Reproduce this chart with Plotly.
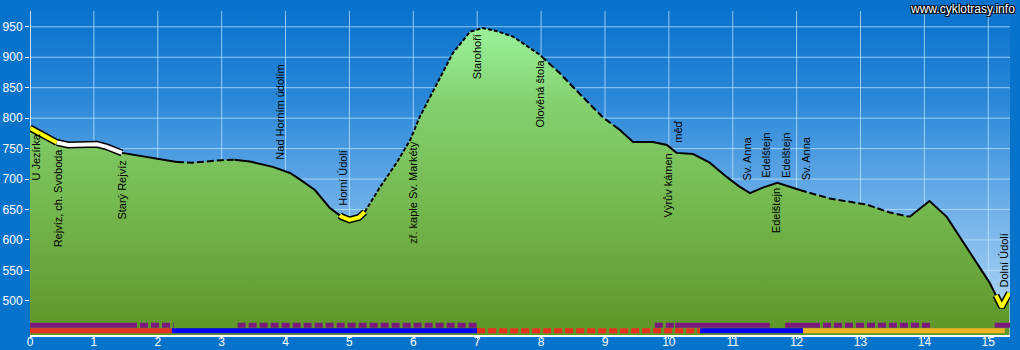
import numpy as np
import plotly.graph_objects as go

# ---- profile data (km, elevation m) ----
km = [0.00, 0.20, 0.42, 0.60, 1.05, 1.20, 1.44, 1.93, 2.30, 2.55,
      3.00, 3.18, 3.44, 3.80, 4.07, 4.23, 4.46, 4.69, 4.88, 5.00,
      5.15, 5.24, 5.48, 5.74, 5.95, 6.10, 6.34, 6.62, 6.89, 7.09,
      7.30, 7.56, 7.98, 8.29, 8.65, 8.97, 9.23, 9.44, 9.75, 9.97,
      10.12, 10.38, 10.64, 10.90, 11.10, 11.27, 11.47, 11.70, 12.05, 12.52,
      13.10, 13.46, 13.77, 14.08, 14.35, 14.66, 15.02, 15.13, 15.21, 15.33]
elev = [784, 772, 760, 756, 757, 753, 743, 735, 728, 727,
        731, 732, 729, 720, 710, 699, 682, 653, 638, 633,
        637, 646, 687, 727, 764, 802, 851, 907, 942, 948,
        943, 934, 904, 874, 835, 801, 781, 761, 761, 756,
        743, 741, 727, 704, 688, 677, 686, 694, 682, 668,
        658, 645, 638, 664, 638, 589, 530, 507, 490, 513]

# ---- line style segments of the profile ----
seg_start = [0.00, 0.42, 1.44, 2.30, 3.20, 4.85, 5.24, 8.00, 9.20, 12.05, 13.77, 15.12]
seg_end = [0.42, 1.44, 2.30, 3.20, 4.85, 5.24, 8.00, 9.20, 12.05, 13.77, 15.12, 15.33]
seg_style = ['yellow', 'white', 'solid', 'dash', 'solid', 'yellow', 'dot', 'dash',
             'solid', 'dash', 'solid', 'yellow']

# ---- waypoint labels ----
label_text = ['U Jezírka', 'Rejvíz, ch. Svoboda', 'Starý Rejvíz', 'Nad Horním údolím',
              'Horní Údolí', 'zř. kaple Sv. Markéty', 'Starohoří', 'Olověná štola',
              'Výrův kámen', 'měď', 'Sv. Anna', 'Edelštejn', 'Edelštejn', 'Edelštejn',
              'Sv. Anna', 'Dolní Údolí']
label_km = [0.10, 0.44, 1.44, 3.90, 4.90, 5.99, 7.00, 7.98,
            9.98, 10.14, 11.22, 11.53, 11.67, 11.83, 12.14, 15.24]
label_elev = [694, 584, 631, 728, 653, 590, 860, 781,
              633, 756, 694, 699, 608, 699, 694, 518]

# ---- bottom surface / route bars ----
top_start = [0.00, 1.55, 3.25, 9.78, 10.10, 11.82, 12.24, 15.10]
top_end = [1.55, 2.25, 7.00, 10.10, 11.58, 12.24, 14.10, 15.34]
top_dotted = [False, True, True, True, False, False, True, False]

low_start = [0.00, 2.22, 7.00, 10.49, 12.10]
low_end = [2.22, 7.00, 10.49, 12.10, 15.26]
low_color = ['#e6321e', '#0000f0', '#e6321e', '#0000f0', '#f0b428']
low_dotted = [False, False, True, False, False]

x_ticks = list(range(0, 16))
y_ticks = list(range(500, 951, 50))

X_MAX = 15.34
Y_MIN, Y_MAX = 444, 994
GRID_TOP = 976
TOP_BAR_Y = 460
LOW_BAR_Y = 451

fig = go.Figure()

# background gradient of the plot area
fig.add_trace(go.Scatter(
    x=[0, X_MAX], y=[Y_MAX, Y_MAX], mode='lines', line=dict(width=0),
    fill='tozeroy',
    fillgradient=dict(type='vertical', start=Y_MIN, stop=Y_MAX,
                      colorscale=[[0, '#b8dbf6'], [0.35, '#75b3ea'],
                                  [0.7, '#2b88d8'], [1, '#0670cb']]),
    hoverinfo='skip', showlegend=False))

# grid lines
gx, gy = [], []
for t in x_ticks[1:]:
    gx += [t, t, None]
    gy += [Y_MIN, GRID_TOP, None]
for t in y_ticks:
    gx += [0, X_MAX, None]
    gy += [t, t, None]
fig.add_trace(go.Scatter(x=gx, y=gy, mode='lines',
                         line=dict(color='rgba(190,230,255,0.75)', width=1),
                         hoverinfo='skip', showlegend=False))
# left axis line
fig.add_trace(go.Scatter(x=[0, 0], y=[Y_MIN, GRID_TOP], mode='lines',
                         line=dict(color='white', width=1.5),
                         hoverinfo='skip', showlegend=False))

# profile fill
fig.add_trace(go.Scatter(
    x=km, y=elev, mode='lines', line=dict(width=0),
    fill='tozeroy',
    fillgradient=dict(type='vertical', start=Y_MIN, stop=950,
                      colorscale=[[0, '#5f9428'], [0.45, '#76bb52'],
                                  [0.75, '#84d070'], [1, '#9bf29b']]),
    hoverinfo='skip', showlegend=False))

# profile line segments
km_arr = np.array(km, dtype=float)
el_arr = np.array(elev, dtype=float)
for s, e, st in zip(seg_start, seg_end, seg_style):
    inner = (km_arr > s) & (km_arr < e)
    xs = [s] + list(km_arr[inner]) + [e]
    ys = [float(np.interp(s, km_arr, el_arr))] + list(el_arr[inner]) + [float(np.interp(e, km_arr, el_arr))]
    if st in ('yellow', 'white'):
        fig.add_trace(go.Scatter(x=xs, y=ys, mode='lines',
                                 line=dict(color='black', width=7),
                                 hoverinfo='skip', showlegend=False))
        fig.add_trace(go.Scatter(x=xs, y=ys, mode='lines',
                                 line=dict(color='#ffff00' if st == 'yellow' else 'white', width=4),
                                 hoverinfo='skip', showlegend=False))
    else:
        dash = {'solid': 'solid', 'dash': '7px,3px', 'dot': '4px,2px'}[st]
        fig.add_trace(go.Scatter(x=xs, y=ys, mode='lines',
                                 line=dict(color='black', width=2, dash=dash),
                                 hoverinfo='skip', showlegend=False))

# bottom bars
for s, e, d in zip(top_start, top_end, top_dotted):
    fig.add_trace(go.Scatter(x=[s, e], y=[TOP_BAR_Y, TOP_BAR_Y], mode='lines',
                             line=dict(color='#7b1a7b', width=5,
                                       dash='8px,3px' if d else 'solid'),
                             hoverinfo='skip', showlegend=False))
for s, e, c, d in zip(low_start, low_end, low_color, low_dotted):
    fig.add_trace(go.Scatter(x=[s, e], y=[LOW_BAR_Y, LOW_BAR_Y], mode='lines',
                             line=dict(color=c, width=5,
                                       dash='8px,3px' if d else 'solid'),
                             hoverinfo='skip', showlegend=False))

# labels
for t, x, y in zip(label_text, label_km, label_elev):
    fig.add_annotation(x=x, y=y, text=t, textangle=-90, showarrow=False,
                       xanchor='center', yanchor='bottom',
                       font=dict(family='Arial, Liberation Sans', size=11, color='black'))

# watermark
fig.add_annotation(xref='paper', yref='paper', x=1, y=1, xshift=7, yshift=0,
                   xanchor='right', yanchor='top', showarrow=False,
                   text='www.cyklotrasy.info',
                   font=dict(family='Arial, Liberation Sans', size=12, color='white',
                             shadow='1px 1px 0 black, -1px -1px 0 black, 1px -1px 0 black, -1px 1px 0 black'))

fig.update_layout(
    width=1020, height=350,
    margin=dict(l=30, r=10, t=0, b=15, autoexpand=False),
    paper_bgcolor='#0873cb', plot_bgcolor='#0873cb',
    showlegend=False,
    font=dict(family='Arial, Liberation Sans', color='white', size=12),
    xaxis=dict(range=[0, X_MAX], tickvals=x_ticks, ticks='outside', ticklen=2,
               tickcolor='white', tickfont=dict(color='white', size=12),
               ticklabelstandoff=-7,
               showgrid=False, zeroline=False, showline=True, linecolor='white',
               linewidth=2, fixedrange=True, automargin=False),
    yaxis=dict(range=[Y_MIN, Y_MAX], tickvals=y_ticks, ticks='outside', ticklen=4,
               tickcolor='white', tickfont=dict(color='white', size=12),
               showgrid=False, zeroline=False, showline=False, fixedrange=True,
               automargin=False),
)

fig.write_html('out.html', config={'displayModeBar': False})
